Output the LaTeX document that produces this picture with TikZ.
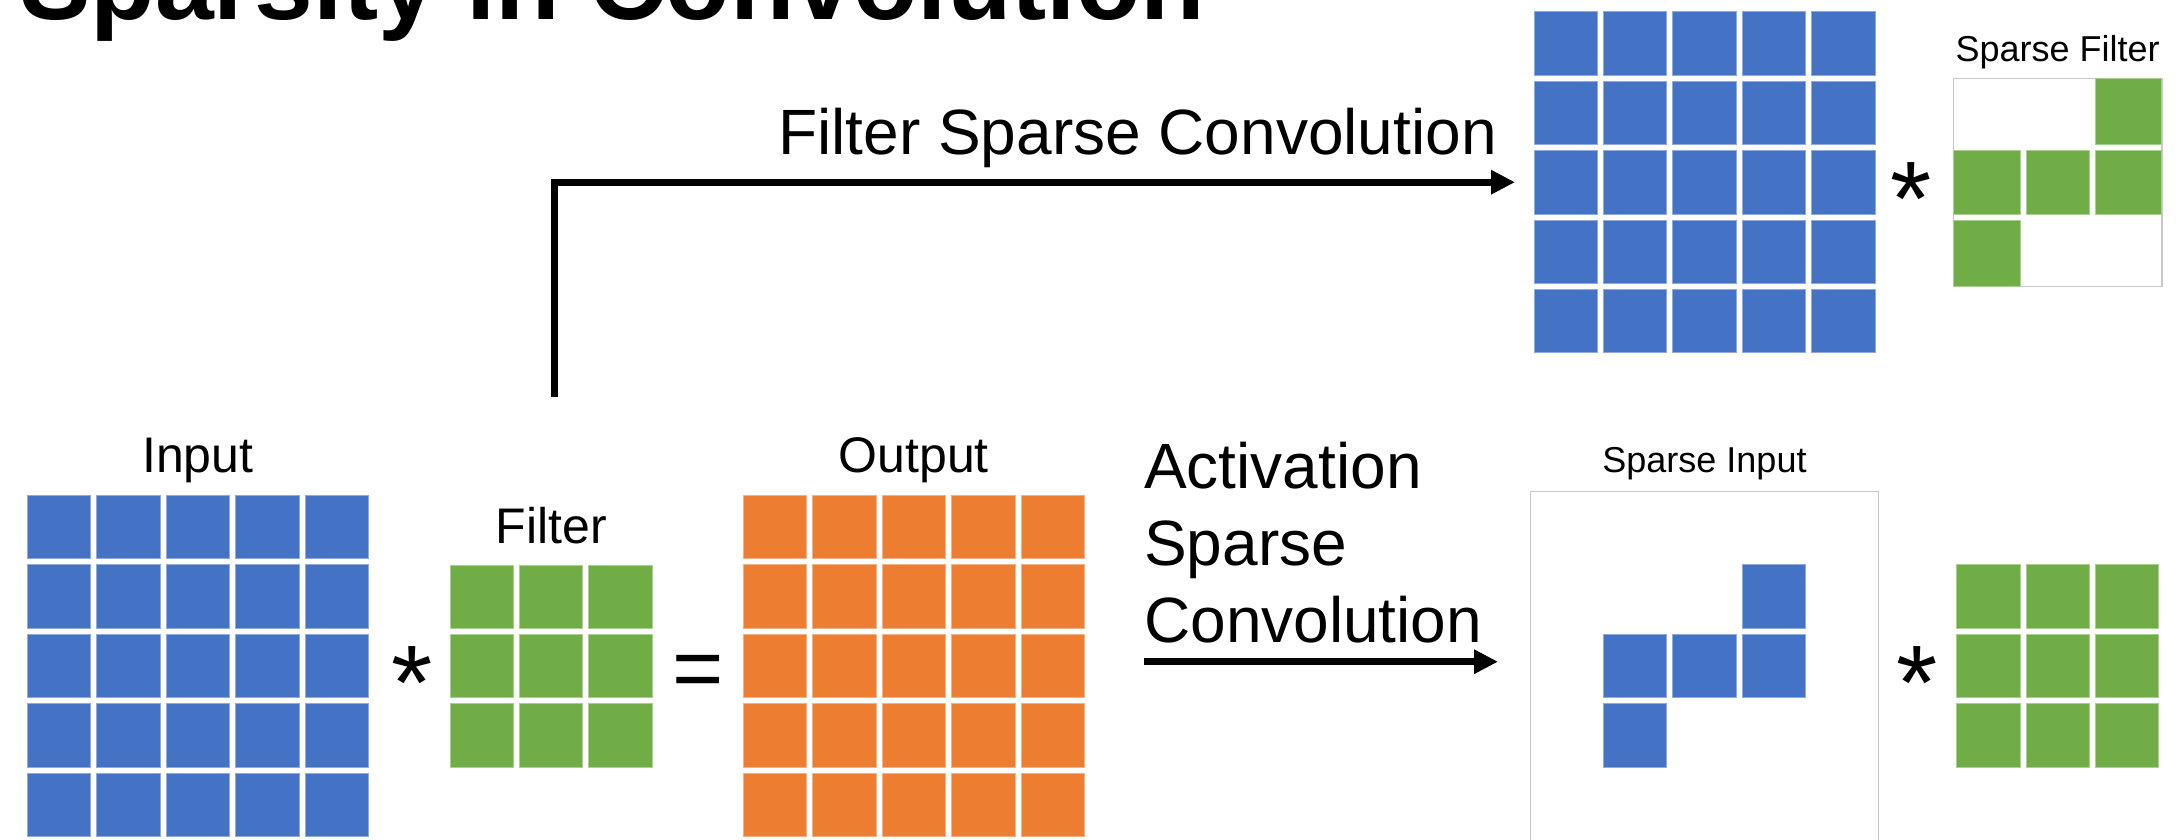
\documentclass[tikz,border=0pt]{standalone}
\usepackage{fontspec}
\setmainfont{Liberation Sans}
\usetikzlibrary{arrows.meta}

\definecolor{cblue}{HTML}{4472C4}
\definecolor{cblueedge}{HTML}{8FAADC}
\definecolor{cgreen}{HTML}{70AD47}
\definecolor{cgreenedge}{HTML}{A9D18E}
\definecolor{corange}{HTML}{ED7D31}
\definecolor{corangeedge}{HTML}{F4B183}
\definecolor{boxgray}{HTML}{C8C8C8}

\tikzset{
  cell/.style={rectangle, anchor=north west, inner sep=0pt, outer sep=0pt,
    minimum width=63.4pt, minimum height=63.4pt, line width=0.8pt},
  bcell/.style={cell, fill=cblue, draw=cblueedge},
  gcell/.style={cell, fill=cgreen, draw=cgreenedge},
  ocell/.style={cell, fill=corange, draw=corangeedge},
  framebox/.style={rectangle, anchor=north west, draw=boxgray, line width=1.5pt,
    inner sep=0pt, outer sep=0pt},
  lbl/.style={anchor=base, inner sep=0pt, font=\fontsize{50}{60}\selectfont},
  slbl/.style={anchor=base, inner sep=0pt, font=\fontsize{36}{43}\selectfont},
  bigtext/.style={inner sep=0pt, font=\fontsize{64}{77}\selectfont},
  op/.style={anchor=base, inner sep=0pt, font=\fontsize{106}{120}\selectfont},
  flow/.style={line width=7pt, -{Triangle[length=24pt,width=23pt]}},
}

\begin{document}
\begin{tikzpicture}[x=1pt,y=-1pt]
\useasboundingbox (0,0) rectangle (2176,839);
\clip (0,0) rectangle (2176,839);

% heading
\node[anchor=base west, inner sep=0pt, font=\fontsize{105.6}{127}\bfseries]
  (title) at (20,19) {Sparsity in Convolution};

% dense convolution: input * filter = output
\foreach \r in {0,...,4} \foreach \c in {0,...,4}
  \node[bcell] (in-\r-\c) at ({27.3+69.4*\c},{495.3+69.4*\r}) {};
\node[lbl] (inlbl) at (197.8,472) {Input};

\node[op] (star1) at (412,719) {*};

\foreach \r in {0,1,2} \foreach \c in {0,1,2}
  \node[gcell] (f-\r-\c) at ({450+69.4*\c},{565+69.4*\r}) {};
\node[lbl] (flbl) at (551.1,543.3) {Filter};

\node[op, font=\fontsize{88}{100}\selectfont] (eq) at (698,698) {=};

\foreach \r in {0,...,4} \foreach \c in {0,...,4}
  \node[ocell] (out-\r-\c) at ({743.3+69.4*\c},{495.3+69.4*\r}) {};
\node[lbl] (outlbl) at (913.8,472) {Output};

% filter-sparse case: dense input * sparse filter
\foreach \r in {0,...,4} \foreach \c in {0,...,4}
  \node[bcell] (tg-\r-\c) at ({1534+69.4*\c},{11.7+69.4*\r}) {};

\node[op] (star2) at (1911,235) {*};

\node[framebox, minimum width=208.7pt, minimum height=208.4pt] (sfbox) at (1953.3,78.3) {};
\foreach \n/\x/\y/\w/\h in {0-2/2095.3/78.3/66/66, 1-0/1953.3/150.7/67.4/63.3,
    1-1/2026/150.7/63.3/63.3, 1-2/2095.3/150.7/66/63.3, 2-0/1953.3/220/67.4/66.7}
  \node[gcell, minimum width=\w pt, minimum height=\h pt] (sf-\n) at (\x,\y) {};
\node[slbl] (sflbl) at (2057.6,61) {Sparse Filter};

% activation-sparse case: sparse input * dense filter
\node[framebox, minimum width=347.6pt, minimum height=380pt] (sibox) at (1530.7,491.7) {};
\foreach \r/\c in {1/3,2/1,2/2,2/3,3/1}
  \node[bcell] (si-\r-\c) at ({1534+69.4*\c},{495.3+69.4*\r}) {};
\node[slbl] (silbl) at (1704.5,472.3) {Sparse Input};

\node[op] (star3) at (1917.5,719) {*};

\foreach \r in {0,1,2} \foreach \c in {0,1,2}
  \node[gcell] (g-\r-\c) at ({1956.5+69.4*\c},{564.7+69.4*\r}) {};

% flow arrows and their captions
\coordinate (fsstart) at (554,397);
\draw[flow, shorten >=19pt] (fsstart) |- (tg-2-0.west);
\node[bigtext, anchor=base east] (fslbl) at (1497,154) {Filter Sparse Convolution};

\coordinate (asstart) at (1144,661.7);
\draw[flow, shorten >=32.7pt] (asstart) -- (asstart -| sibox.west);
\node[bigtext, anchor=base west] (aslbl) at (1144,488.3)
  {\vtop{\hbox{Activation}\hbox{Sparse}\hbox{Convolution}}};
\end{tikzpicture}
\end{document}
